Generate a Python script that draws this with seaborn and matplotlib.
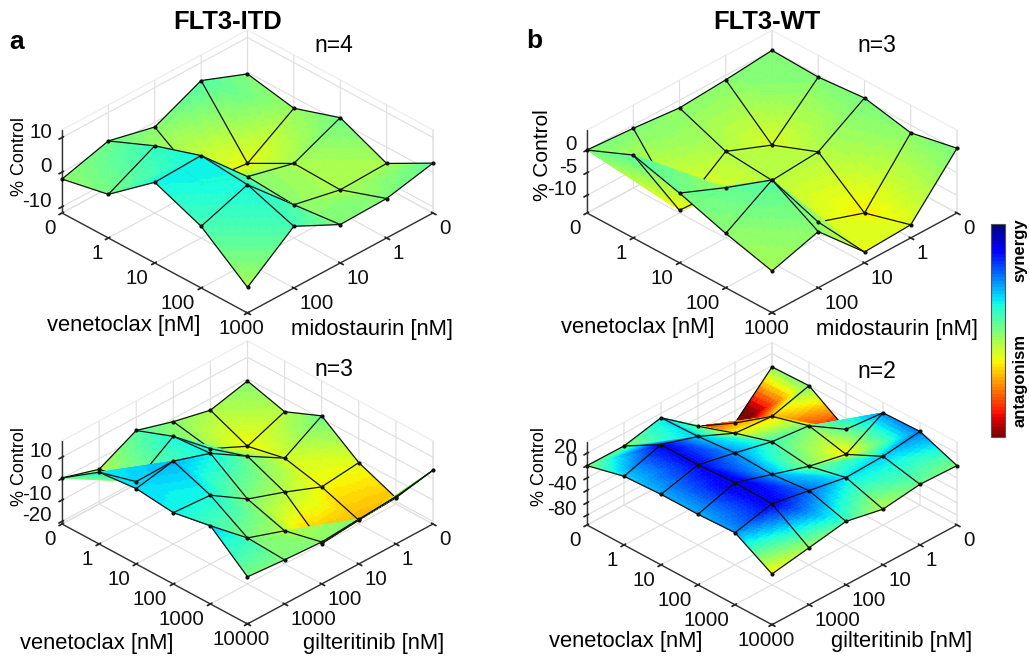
import numpy as np
import matplotlib
matplotlib.use("Agg")
import matplotlib.pyplot as plt
import seaborn as sns
from mpl_toolkits.mplot3d import proj3d
from mpl_toolkits.mplot3d.art3d import Poly3DCollection

W, H = 1029, 660
CLIM = 45
SUB = 12

# rows are venetoclax, columns are the second drug, values in % control
ITD_MIDO = [
    [-0.5, 4.8, -1.4, 1.8, -2.0],
    [-3.2, -11.9, -10.4, 7.6, 0.8],
    [1.3, -4.7, -1.3, 12.0, 11.5],
    [-4.7, -5.1, -2.2, 10.8, 6.0],
    [2.6, -0.4, -0.7, 6.0, -4.4],
]
WT_MIDO = [
    [0.0, -1.0, -1.7, -0.7, 0.0],
    [-0.4, -9.9, -5.8, -13.3, 4.4],
    [0.5, -5.9, -6.7, -2.8, 1.5],
    [-1.7, -13.9, -10.4, 4.4, -1.9],
    [0.4, -11.0, -11.5, -1.5, -4.7],
]
ITD_GILT = [
    [-1.1, -5.4, -1.4, 3.8, -5.0, 0.3],
    [-6.1, -12.9, -4.7, 10.4, -1.4, 12.3],
    [1.3, -9.1, 1.1, 11.8, 17.5, 14.0],
    [-11.2, -13.2, -6.3, -0.2, 10.9, 12.1],
    [-18.3, -19.4, -21.0, -5.7, 0.3, 15.3],
    [3.9, 0.9, -0.3, -1.6, -0.6, 0.8],
]
WT_GILT = [
    [-1.6, -60.0, -33.0, 13.0, -0.5, 0.0],
    [0.3, -17.0, -12.0, 15.0, 34.0, 15.0],
    [-38.0, 0.0, 6.5, 20.5, 33.5, 18.0],
    [21.0, -14.0, -1.0, 18.0, 37.0, 18.0],
    [23.0, 15.0, 13.0, 24.0, 35.0, 20.5],
    [0.0, 2.0, -6.0, 6.5, -4.0, -14.0],
]

TICKS_SHORT = ["0", "1", "10", "100", "1000"]
TICKS_LONG = ["0", "1", "10", "100", "1000", "10000"]

Z_TICKS_A = [-10, 0, 10]
Z_LABELS_A = ["-10", "0", "10"]
Z_TICKS_B = [-10, -5, 0]
Z_LABELS_B = ["-10", "-5", "0"]
Z_TICKS_C = [-20, -10, 0, 10]
Z_LABELS_C = ["-20", "-10", "0", "10"]
Z_TICKS_D = [-80, -60, -40, -20, 0, 20]
Z_LABELS_D = ["-80", "", "-40", "", "0", "20"]

sns.set_theme(style="white")
plt.rcParams["font.family"] = ["Liberation Sans", "DejaVu Sans"]
plt.rcParams["grid.color"] = "#dedede"
plt.rcParams["grid.linewidth"] = 0.8
plt.rcParams["axes.grid"] = True
plt.rcParams["text.color"] = "black"
for name in ("xtick", "ytick"):
    plt.rcParams[f"{name}.color"] = "#222222"
    plt.rcParams[f"{name}.labelcolor"] = "#111111"

CMAP = sns.color_palette("jet_r", as_cmap=True).resampled(64)
NORM = plt.Normalize(-CLIM, CLIM)

fig = plt.figure(figsize=(W / 100, H / 100), dpi=100)


def place_axes(ax, left, right, floor_y, z_min):
    # size and shift the square axes so the floor corners land on these pixels
    proj = ax.get_proj()
    x_max, y_max = ax.get_xlim()[1], ax.get_ylim()[1]
    xl, yl, _ = proj3d.proj_transform(x_max, 0, z_min, proj)
    xr, _, _ = proj3d.proj_transform(0, y_max, z_min, proj)
    lim_x = ax.viewLim.intervalx
    lim_y = ax.viewLim.intervaly
    side = (right - left) / (xr - xl) * (lim_x[1] - lim_x[0])
    x0 = left - side * (xl - lim_x[0]) / (lim_x[1] - lim_x[0])
    y0 = (H - floor_y) - side * (yl - lim_y[0]) / (lim_y[1] - lim_y[0])
    ax.set_position([x0 / W, y0 / H, side / W, side / H])


def shade_triangle(ax, a, b, c, order):
    # flat pieces of one mesh triangle, standing in for matlab's interp shading
    a, b, c = np.array(a, float), np.array(b, float), np.array(c, float)

    def pt(i, j):
        return a + (b - a) * i / SUB + (c - a) * j / SUB

    polys = []
    for i in range(SUB):
        for j in range(SUB - i):
            polys.append([pt(i, j), pt(i + 1, j), pt(i, j + 1)])
            if i + j < SUB - 1:
                polys.append([pt(i + 1, j), pt(i + 1, j + 1), pt(i, j + 1)])
    cols = [CMAP(NORM(np.mean([p[2] for p in poly]))) for poly in polys]
    coll = Poly3DCollection(polys, facecolors=cols, edgecolors=cols, linewidths=0.4)
    coll.set_zorder(order)
    ax.add_collection3d(coll)


def draw_surface(ax, values):
    z = np.array(values, dtype=float)
    n_v, n_m = z.shape
    order = 10
    for v in range(n_v):
        for m in range(n_m):
            if v < n_v - 1 and m < n_m - 1:
                # quads split along the same diagonal as the reference, back first
                p00 = (m, v, z[v, m])
                p01 = (m + 1, v, z[v, m + 1])
                p10 = (m, v + 1, z[v + 1, m])
                p11 = (m + 1, v + 1, z[v + 1, m + 1])
                shade_triangle(ax, p00, p01, p10, order)
                shade_triangle(ax, p01, p11, p10, order + 1)
                order += 2
            if m < n_m - 1:
                ax.plot(
                    [m, m + 1], [v, v], [z[v, m], z[v, m + 1]],
                    color="#111111", lw=0.9, zorder=order,
                )
            if v < n_v - 1:
                ax.plot(
                    [m, m], [v, v + 1], [z[v, m], z[v + 1, m]],
                    color="#111111", lw=0.9, zorder=order,
                )
            ax.plot(
                [m], [v], [z[v, m]], "o", color="#111111", ms=2.0, zorder=order + 1
            )
            order += 2


def panel(values, ticks, z_lim, z_ticks, z_labels, left, right, floor_y):
    ax = fig.add_axes([0.1, 0.1, 0.5, 0.5 * W / H], projection="3d")
    ax.computed_zorder = False
    ax.set_proj_type("ortho")
    ax.view_init(elev=32.6, azim=45)
    n = len(ticks) - 1
    ax.set_xlim(0, n, view_margin=0)
    ax.set_ylim(0, n, view_margin=0)
    ax.set_zlim(z_lim[0], z_lim[1], view_margin=0)
    ax.set_box_aspect((1, 1, 0.376), zoom=0.75)
    ax.patch.set_alpha(0)

    ax.set_xticks(range(n + 1))
    ax.set_xticklabels(ticks[:-1] + [""], fontsize=14.8, ha="left")
    ax.set_yticks(range(n + 1))
    y_labels = ax.set_yticklabels(ticks, fontsize=14.8, ha="right")
    y_labels[-1].set_ha("center")
    ax.set_zticks(z_ticks)
    ax.set_zticklabels(z_labels, fontsize=14.8, ha="right", va="baseline")
    ax.tick_params(axis="x", pad=-2)
    ax.tick_params(axis="y", pad=-2)
    ax.tick_params(axis="z", pad=-3)

    for axis in (ax.xaxis, ax.yaxis, ax.zaxis):
        axis.pane.set_facecolor((1, 1, 1, 0))
        axis.pane.set_edgecolor("#dedede")
        axis.line.set_color("#333333")
        axis.line.set_linewidth(1.0)
    ax.zaxis.set_ticks_position("lower")

    place_axes(ax, left, right, floor_y, z_lim[0])
    draw_surface(ax, values)
    return ax


panel(ITD_MIDO, TICKS_SHORT, (-11.8, 12.2), Z_TICKS_A, Z_LABELS_A, 62, 433, 213)
panel(WT_MIDO, TICKS_SHORT, (-13.9, 4.4), Z_TICKS_B, Z_LABELS_B, 587, 957, 213)
panel(ITD_GILT, TICKS_LONG, (-21.2, 17.6), Z_TICKS_C, Z_LABELS_C, 62, 433, 524)
panel(WT_GILT, TICKS_LONG, (-96, 38), Z_TICKS_D, Z_LABELS_D, 587, 957, 525)


def label(x, y, text, **kw):
    fig.text(x / W, 1 - y / H, text, ha="center", va="center", **kw)


label(228, 22, "FLT3-ITD", fontsize=18.4, fontweight="bold")
label(767, 22, "FLT3-WT", fontsize=18.4, fontweight="bold")
label(17, 42, "a", fontsize=19, fontweight="bold")
label(534, 41, "b", fontsize=19, fontweight="bold")
label(334, 45, "n=4", fontsize=16.5)
label(877, 45, "n=3", fontsize=16.5)
label(334, 370, "n=3", fontsize=16.5)
label(877, 371, "n=2", fontsize=16.5)

label(124, 326, "venetoclax [nM]", fontsize=15.8)
label(372, 330, "midostaurin [nM]", fontsize=15.8)
label(638, 328, "venetoclax [nM]", fontsize=15.8)
label(897, 330, "midostaurin [nM]", fontsize=15.8)
label(97, 643, "venetoclax [nM]", fontsize=15.8)
label(374, 643, "gilteritinib [nM]", fontsize=15.8)
label(626, 641, "venetoclax [nM]", fontsize=15.8)
label(902, 641, "gilteritinib [nM]", fontsize=15.8)

label(20, 156, "% Control", fontsize=13, rotation=90)
label(542, 155, "% Control", fontsize=15, rotation=90)
label(20, 466, "% Control", fontsize=13, rotation=90)
label(540, 466, "% Control", fontsize=13, rotation=90)

cax = fig.add_axes([991 / W, 1 - 437 / H, 14 / W, 213 / H])
cbar = fig.colorbar(plt.cm.ScalarMappable(norm=NORM, cmap=CMAP), cax=cax)
cbar.set_ticks([])
cbar.outline.set_edgecolor("#555555")
cbar.outline.set_linewidth(0.8)
cax.grid(False)
label(1020, 250, "synergy", fontsize=12, fontweight="bold", rotation=90)
label(1020, 380, "antagonism", fontsize=12, fontweight="bold", rotation=90)

fig.savefig("out.png", dpi=100)
plt.close(fig)
